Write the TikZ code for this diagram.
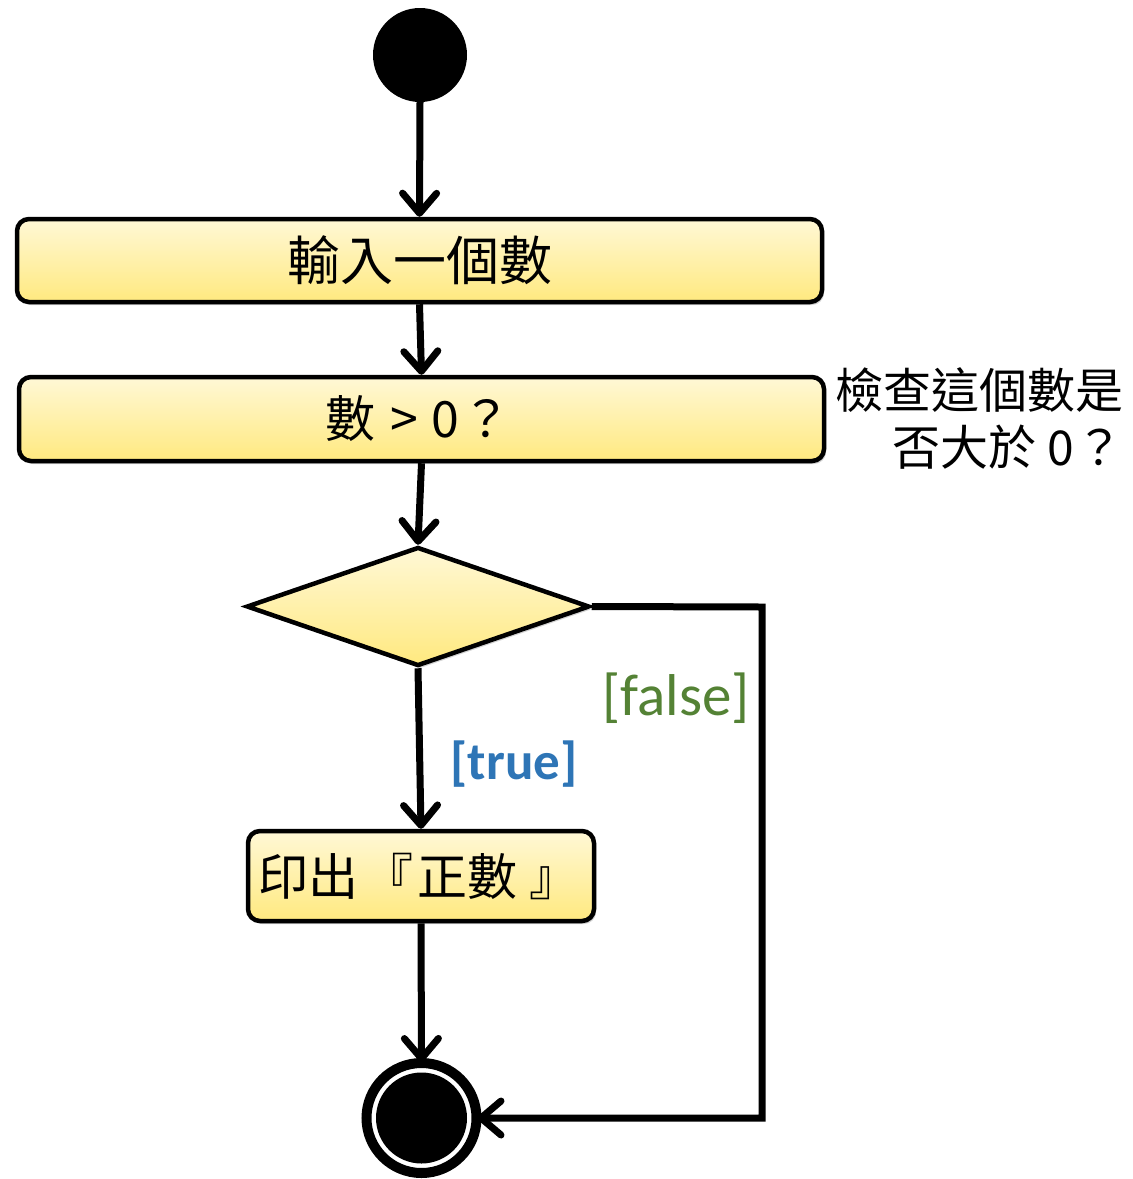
\documentclass[tikz,border=0pt]{standalone}
\usepackage{fontspec}
\newfontfamily\cjk{Noto Sans CJK TC}
\newfontfamily\lab{Carlito}
\usetikzlibrary{arrows.meta,shapes.geometric,shadows}
\definecolor{ytop}{HTML}{FFF8D6}
\definecolor{ybot}{HTML}{FFE97F}
\definecolor{tblue}{HTML}{2E75B6}
\definecolor{fgreen}{HTML}{548235}
\tikzset{
  actbox/.style={draw=black, line width=4.5pt, rounded corners=12pt, top color=ytop, bottom color=ybot,
    inner sep=0pt, font=\cjk, drop shadow={opacity=0.35, shadow xshift=2pt, shadow yshift=-3pt}},
  flow/.style={line width=7pt, -{Straight Barb[length=20pt,width=34pt,round]}},
}
\begin{document}
\begin{tikzpicture}[x=1pt,y=-1pt]
\useasboundingbox (0,0) rectangle (1133,1179);
% start
\node[circle, fill=black, minimum size=94pt, inner sep=0pt] (start) at (420,55) {};
% boxes
\node[actbox, minimum width=805pt, minimum height=83pt, font=\cjk\fontsize{53}{60}\selectfont] (in) at (419.5,260.5) {輸入一個數};
\node[actbox, minimum width=805pt, minimum height=84pt, font=\cjk\fontsize{50}{58}\selectfont] (chk) at (421.5,419) {\hspace*{-6pt}數\hspace{4pt} > \hspace{2pt}0\hspace{3pt}？};
\node[font=\cjk\fontsize{48}{57}\selectfont, align=right, anchor=east, inner sep=0pt] (note) at (1124,418) {檢查這個數是\\否大於 0\hspace{2pt}？};
% decision
\node[diamond, draw=black, line width=4.5pt, top color=ytop, bottom color=ybot, inner sep=0pt,
  minimum width=343pt, minimum height=119pt,
  drop shadow={opacity=0.35, shadow xshift=2pt, shadow yshift=-3pt}] (dec) at (418,606.5) {};
\node[actbox, minimum width=346pt, minimum height=90pt, font=\cjk\fontsize{50}{58}\selectfont] (pr) at (421,876) {\hspace*{-4pt}印出\hspace{6pt}『\hspace{4pt}正數\hspace{12pt}』};
% end
\node[circle, draw=black, line width=10pt, minimum size=110pt, inner sep=0pt] (end) at (421.5,1118) {};
\node[circle, fill=black, minimum size=91pt, inner sep=0pt] (endin) at (421.5,1118) {};
\coordinate (corner) at (762,607);
% labels
\node[font=\lab\bfseries\fontsize{53}{60}\selectfont, text=tblue, inner sep=0pt] (tl) at (514,764) {[true]};
\node[font=\lab\fontsize{59}{66}\selectfont, text=fgreen, inner sep=0pt] (fl) at (676,698) {[false]};
% connectors
\draw[flow] (start.south) -- (in.north);
\draw[flow] (in.south) -- (chk.north);
\draw[flow] (chk.south) -- (dec.north);
\draw[flow] (dec.south) -- (pr.north);
\draw[flow] (pr.south) -- ([yshift=-4pt]end.north);
\draw[flow, line join=miter] (dec.east) -- (corner) |- ([xshift=-4pt]end.east);
\end{tikzpicture}
\end{document}
